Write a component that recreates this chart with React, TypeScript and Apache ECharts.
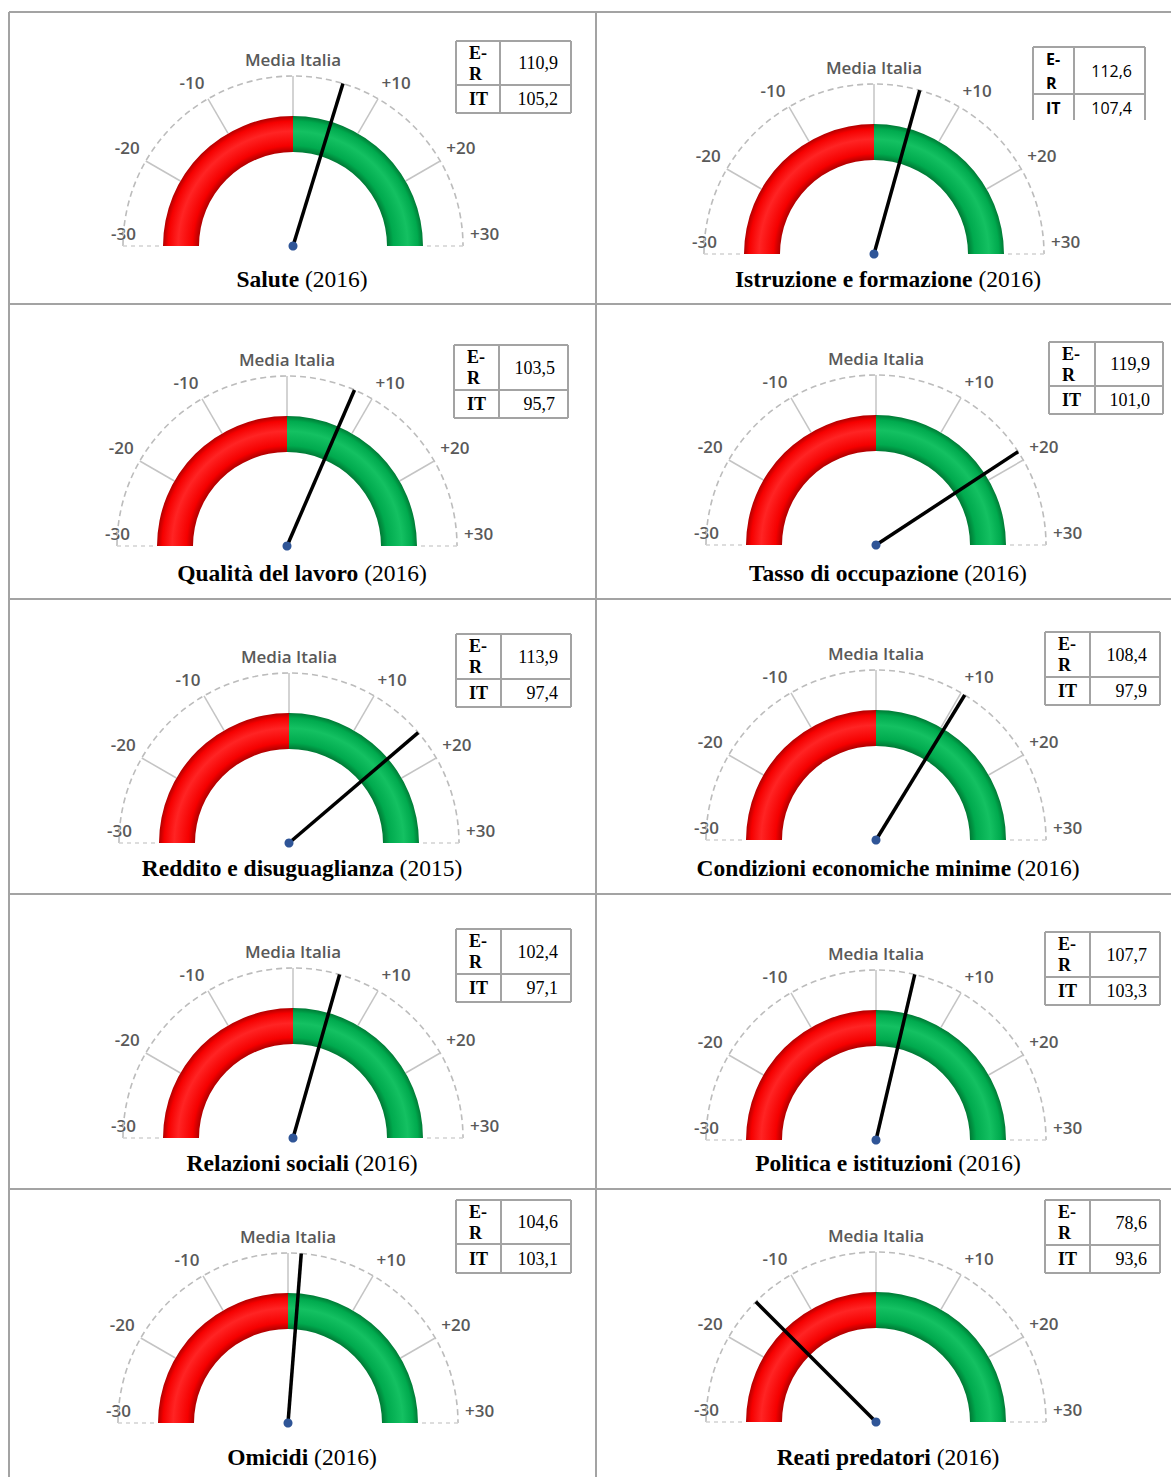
import React, { useEffect, useRef } from "react";
import * as echarts from "echarts";

const W = 1171;
const H = 1477;

// ---------- data ----------
const indicators = [
  "Salute",
  "Istruzione e formazione",
  "Qualità del lavoro",
  "Tasso di occupazione",
  "Reddito e disuguaglianza",
  "Condizioni economiche minime",
  "Relazioni sociali",
  "Politica e istituzioni",
  "Omicidi",
  "Reati predatori",
];
const years = ["2016", "2016", "2016", "2016", "2015", "2016", "2016", "2016", "2016", "2016"];
const erValues = [110.9, 112.6, 103.5, 119.9, 113.9, 108.4, 102.4, 107.7, 104.6, 78.6];
const itValues = [105.2, 107.4, 95.7, 101.0, 97.4, 97.9, 97.1, 103.3, 103.1, 93.6];
const scaleTicks = [-30, -20, -10, 0, 10, 20, 30];
const tickLabels = ["-30", "-20", "-10", "Media Italia", "+10", "+20", "+30"];
const rowHeads = ["E-\nR", "IT"];

// ---------- layout ----------
const pivots: number[][] = [
  [293, 246], [874, 254],
  [287, 546], [876, 545],
  [289, 843], [876, 840],
  [293, 1138], [876, 1140],
  [288, 1423], [876, 1422],
];
const tableBoxes = [
  { x: 456, y: 41, w1: 44, w2: 71, h1: 44, h2: 28, sans: false, cut: false },
  { x: 1033, y: 47, w1: 41, w2: 71, h1: 47, h2: 26, sans: true, cut: true },
  { x: 454, y: 345, w1: 45, w2: 69, h1: 45, h2: 28, sans: false, cut: false },
  { x: 1049, y: 342, w1: 46, w2: 68, h1: 44, h2: 28, sans: false, cut: false },
  { x: 456, y: 634, w1: 45, w2: 70, h1: 45, h2: 28, sans: false, cut: false },
  { x: 1045, y: 632, w1: 45, w2: 70, h1: 45, h2: 28, sans: false, cut: false },
  { x: 456, y: 929, w1: 45, w2: 70, h1: 45, h2: 28, sans: false, cut: false },
  { x: 1045, y: 932, w1: 45, w2: 70, h1: 45, h2: 28, sans: false, cut: false },
  { x: 456, y: 1200, w1: 45, w2: 70, h1: 44, h2: 29, sans: false, cut: false },
  { x: 1045, y: 1200, w1: 45, w2: 70, h1: 45, h2: 28, sans: false, cut: false },
];
const titlePos: number[][] = [
  [302, 279], [888, 279],
  [302, 573], [888, 573],
  [302, 868], [888, 868],
  [302, 1163], [888, 1163],
  [302, 1457], [888, 1457],
];
const gridX = [9, 596];
const gridY = [12, 304, 599, 894, 1189];

const BAND_R = 130;
const BAND_W = 36;
const ARC_R = 170;
const LOW_LABEL_R = 150;
const BORDER = "#a3a3a3";
const SERIF = "'Liberation Serif', 'Times New Roman', serif";
const SANS = "'Open Sans', 'Liberation Sans', sans-serif";
const LABEL_FONT = "'Open Sans', 'DejaVu Sans', sans-serif";

const fmt = (v: number) => v.toFixed(1).replace(".", ",");

const labelRich = {
  n: { fontFamily: LABEL_FONT, fontSize: 17, fontWeight: 600, color: "#595959", lineHeight: 20 },
  g: { fontSize: 2, lineHeight: 26 },
};

function bandGradient(p: number[], edge: string, main: string, light: string) {
  const inner = (BAND_R - BAND_W) / BAND_R;
  return new echarts.graphic.RadialGradient(p[0], p[1], BAND_R, [
    { offset: inner, color: edge },
    { offset: inner + 0.05, color: main },
    { offset: inner + 0.16, color: light },
    { offset: 0.96, color: main },
    { offset: 1, color: edge },
  ], true);
}

function buildOption() {
  const polar: any[] = [];
  const angleAxis: any[] = [];
  const radiusAxis: any[] = [];
  const series: any[] = [];
  const graphic: any[] = [];
  const n = pivots.length;

  pivots.forEach((p, i) => {
    // main polar: dashed arc + labels -20 .. +30
    polar[i] = { center: [p[0], p[1]], radius: [0, ARC_R] };
    angleAxis[i] = {
      polarIndex: i,
      type: "value",
      min: -30,
      max: 30,
      interval: 10,
      startAngle: 180,
      endAngle: 0,
      axisLine: { show: true, lineStyle: { color: "#bcbcbc", width: 1.6, type: [6, 4] } },
      axisTick: { show: false },
      splitLine: { show: false },
      axisLabel: {
        show: true,
        margin: 7,
        formatter: (v: number) => {
          if (v === -30) return "";
          const t = tickLabels[scaleTicks.indexOf(v)];
          return v === 30 ? `{n|${t}}\n{g| }` : `{n|${t}}`;
        },
        rich: labelRich,
      },
    };
    radiusAxis[i] = { polarIndex: i, type: "value", min: 0, max: 1, show: false };

    // secondary polar: only the -30 label, which sits on the arc
    polar[n + i] = { center: [p[0], p[1]], radius: [0, LOW_LABEL_R] };
    angleAxis[n + i] = {
      polarIndex: n + i,
      type: "value",
      min: -30,
      max: 30,
      interval: 10,
      startAngle: 180,
      endAngle: 0,
      axisLine: { show: false },
      axisTick: { show: false },
      splitLine: { show: false },
      axisLabel: {
        show: true,
        margin: 7,
        formatter: (v: number) => (v === -30 ? `{n|${tickLabels[0]}}\n{g| }` : ""),
        rich: labelRich,
      },
    };
    radiusAxis[n + i] = { polarIndex: n + i, type: "value", min: 0, max: 1, show: false };

    const diff = erValues[i] - itValues[i];

    // coloured band + needle
    series.push({
      type: "gauge",
      center: [p[0], p[1]],
      radius: BAND_R,
      startAngle: 180,
      endAngle: 0,
      min: -30,
      max: 30,
      splitNumber: 6,
      z: 3,
      axisLine: {
        show: true,
        lineStyle: {
          width: BAND_W,
          color: [
            [0.5, bandGradient(p, "#b00000", "#f60000", "#ff2424")],
            [1, bandGradient(p, "#007a35", "#00aa4e", "#14c162")],
          ],
        },
      },
      splitLine: { show: false },
      axisTick: { show: false },
      axisLabel: { show: false },
      pointer: {
        show: true,
        icon: "rect",
        length: ARC_R,
        width: 3.5,
        offsetCenter: [0, 0],
        itemStyle: { color: "#000000" },
      },
      anchor: { show: true, showAbove: true, size: 9, itemStyle: { color: "#2f5597" } },
      title: { show: false },
      detail: { show: false },
      data: [{ value: diff }],
    });

    // radial tick lines -20..+20
    series.push({
      type: "gauge",
      center: [p[0], p[1]],
      radius: ARC_R,
      startAngle: 150,
      endAngle: 30,
      min: -20,
      max: 20,
      splitNumber: 4,
      z: 2,
      axisLine: { show: false, lineStyle: { width: 0 } },
      splitLine: { show: true, length: ARC_R - BAND_R, distance: 0, lineStyle: { color: "#c4c4c4", width: 1.5 } },
      axisTick: { show: false },
      axisLabel: { show: false },
      pointer: { show: false },
      anchor: { show: false },
      title: { show: false },
      detail: { show: false },
      data: [{ value: 0 }],
    });

    // faint dashed ticks at -30 / +30
    series.push({
      type: "gauge",
      center: [p[0], p[1]],
      radius: ARC_R,
      startAngle: 180,
      endAngle: 0,
      min: -30,
      max: 30,
      splitNumber: 1,
      z: 2,
      axisLine: { show: false, lineStyle: { width: 0 } },
      splitLine: { show: true, length: ARC_R - BAND_R, distance: 0, lineStyle: { color: "#d2d2d2", width: 1.5, type: [4, 4] } },
      axisTick: { show: false },
      axisLabel: { show: false },
      pointer: { show: false },
      anchor: { show: false },
      title: { show: false },
      detail: { show: false },
      data: [{ value: 0 }],
    });

    // title
    graphic.push({
      type: "text",
      x: titlePos[i][0],
      y: titlePos[i][1],
      style: {
        text: `{b|${indicators[i]}} (${years[i]})`,
        fontFamily: SERIF,
        fontSize: 23.5,
        fill: "#000",
        align: "center",
        verticalAlign: "middle",
        rich: { b: { fontFamily: SERIF, fontSize: 23.5, fontWeight: "bold" } },
      },
    });

    // small table
    const t = tableBoxes[i];
    const font = t.sans ? SANS : SERIF;
    const fs = t.sans ? 16 : 18;
    const x0 = t.x, x1 = t.x + t.w1, x2 = t.x + t.w1 + t.w2;
    const y0 = t.y, y1 = t.y + t.h1, y2 = t.y + t.h1 + t.h2;
    const ls = { stroke: BORDER, lineWidth: 2 };
    const lines = [
      [x0, y0, x2, y0],
      [x0, y1, x2, y1],
      [x0, y0, x0, y2],
      [x1, y0, x1, y2],
      [x2, y0, x2, y2],
    ];
    if (!t.cut) lines.push([x0, y2, x2, y2]);
    lines.forEach((l) => graphic.push({ type: "line", shape: { x1: l[0], y1: l[1], x2: l[2], y2: l[3] }, style: ls, z: 10 }));
    const vals = [erValues[i], itValues[i]];
    const rowMid = [(y0 + y1) / 2, (y1 + y2) / 2 + (t.cut ? 1 : 0)];
    rowHeads.forEach((h, r) => {
      graphic.push({
        type: "text",
        x: x0 + 13,
        y: rowMid[r],
        z: 10,
        style: {
          text: h,
          fontFamily: font,
          fontSize: fs,
          fontWeight: "bold",
          lineHeight: t.sans ? 24 : 21,
          fill: "#000",
          align: "left",
          verticalAlign: "middle",
        },
      });
      graphic.push({
        type: "text",
        x: x2 - 13,
        y: rowMid[r],
        z: 10,
        style: {
          text: fmt(vals[r]),
          fontFamily: font,
          fontSize: fs,
          fill: "#000",
          align: "right",
          verticalAlign: "middle",
        },
      });
    });
  });

  // outer table grid
  gridX.forEach((x) =>
    graphic.push({ type: "line", shape: { x1: x, y1: gridY[0], x2: x, y2: H }, style: { stroke: BORDER, lineWidth: 2 } })
  );
  gridY.forEach((y) =>
    graphic.push({ type: "line", shape: { x1: gridX[0], y1: y, x2: W, y2: y }, style: { stroke: BORDER, lineWidth: 2 } })
  );

  return {
    animation: false,
    backgroundColor: "#ffffff",
    polar,
    angleAxis,
    radiusAxis,
    series,
    graphic,
  };
}

export default function App() {
  const ref = useRef<HTMLDivElement>(null);
  useEffect(() => {
    if (!ref.current) return;
    const chart = echarts.init(ref.current, undefined, { renderer: "svg", width: W, height: H });
    chart.setOption(buildOption() as any);
    return () => chart.dispose();
  }, []);
  return (
    <div
      ref={ref}
      style={{ position: "absolute", left: 0, top: 0, width: W, height: H, background: "#fff" }}
    />
  );
}
